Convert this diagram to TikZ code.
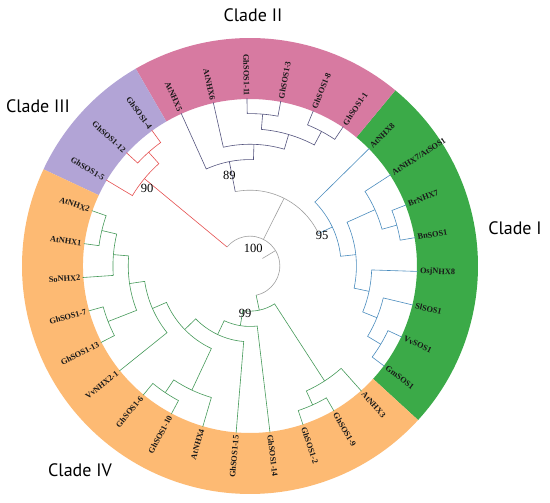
\documentclass[tikz,border=0pt]{standalone}
\usepackage{fontspec}
\setmainfont{Liberation Serif}
\newfontfamily\cladefont{PT Sans}
\definecolor{cI}{HTML}{3BAA48}
\definecolor{cII}{HTML}{D77AA1}
\definecolor{cIII}{HTML}{B2A4D6}
\definecolor{cIV}{HTML}{FDBA73}
\definecolor{bblue}{HTML}{4A8CBE}
\definecolor{bpur}{HTML}{55557F}
\definecolor{bred}{HTML}{E65050}
\definecolor{bgrn}{HTML}{469A5A}
\definecolor{bgray}{HTML}{A0A0A0}
\def\az{-36.7}
\def\as{11.6129}
\def\Rl{167.7}
\def\dr{15.32}
\def\Rt{170}
% internal node: colour, height, child1 index, child1 height, child2 index, child2 height
\newcommand\tn[6]{%
  \draw[br,#1] ({\az+#3*\as}:{\Rl-#4*\dr}) -- ({\az+#3*\as}:{\Rl-#2*\dr})
    arc[start angle={\az+#3*\as}, end angle={\az+#5*\as}, radius={\Rl-#2*\dr}]
    -- ({\az+#5*\as}:{\Rl-#6*\dr});}
% stem: colour, index, from height, to height
\newcommand\stem[4]{%
  \draw[br,#1] ({\az+#2*\as}:{\Rl-#3*\dr}) -- ({\az+#2*\as}:{\Rl-#4*\dr});}
% arc: colour, height, index1, index2
\newcommand\harc[4]{%
  \draw[br,#1] ({\az+#3*\as}:{\Rl-#2*\dr})
    arc[start angle={\az+#3*\as}, end angle={\az+#4*\as}, radius={\Rl-#2*\dr}];}
% leaf label
\newcommand\lab[2]{%
  \pgfmathsetmacro\la{\az+#1*\as}%
  \ifdim\la pt<90pt
    \node[lbl,rotate=\la,anchor=west] (L#1) at (\la:\Rt) {#2};
  \else\ifdim\la pt>270pt
    \node[lbl,rotate=\la,anchor=west] (L#1) at (\la:\Rt) {#2};
  \else
    \node[lbl,rotate=\la-180,anchor=east] (L#1) at (\la:\Rt) {#2};
  \fi\fi}
% ring sector: colour, start, end
\newcommand\sector[3]{%
  \fill[#1] (#2:167) arc[start angle=#2, end angle=#3, radius=167]
    -- (#3:228) arc[start angle=#3, end angle=#2, radius=228] -- cycle;}
\tikzset{
  br/.style={line width=0.6pt, line join=miter},
  lbl/.style={font=\fontsize{8.3}{9}\selectfont\bfseries, inner sep=0pt, text=black!90},
  boot/.style={font=\fontsize{12.5}{13}\selectfont, inner sep=0pt},
  clade/.style={font=\cladefont\fontsize{18}{20}\selectfont, inner sep=0pt}
}
\begin{document}
\begin{tikzpicture}[x=1pt,y=1pt]
\useasboundingbox (0,0) rectangle (550,503);
\fill[white] (0,0) rectangle (550,503);
\begin{scope}[shift={(250,237)}]
  % coloured ring
  \pgfmathsetmacro\bA{\az-0.5*\as}
  \pgfmathsetmacro\bB{\az+7.5*\as}
  \pgfmathsetmacro\bC{\az+13.5*\as}
  \pgfmathsetmacro\bD{\az+16.5*\as}
  \pgfmathsetmacro\bE{\az+30.5*\as}
  \sector{cI}{\bA}{\bB}
  \sector{cII}{\bB}{\bC}
  \sector{cIII}{\bC}{\bD}
  \sector{cIV}{\bD}{\bE}
  % backbone
  \stem{bgray}{5.841796875}{10}{9}
  \harc{bgray}{9}{-3.56640625}{15.25}
  \stem{bgray}{8.609375}{9}{6}
  \harc{bgray}{6}{5.34375}{11.875}
  % Clade I
  \stem{bblue}{5.34375}{6}{5}
  \tn{bblue}{1}{4}{0}{5}{0}
  \tn{bblue}{2}{4.5}{1}{6}{0}
  \tn{bblue}{1}{0}{0}{1}{0}
  \tn{bblue}{2}{0.5}{1}{2}{0}
  \tn{bblue}{3}{1.25}{2}{3}{0}
  \tn{bblue}{4}{2.125}{3}{5.25}{2}
  \tn{bblue}{5}{3.6875}{4}{7}{0}
  % Clade II
  \stem{bpur}{11.875}{6}{4}
  \tn{bpur}{1}{8}{0}{9}{0}
  \tn{bpur}{1}{10}{0}{11}{0}
  \tn{bpur}{2}{8.5}{1}{10.5}{1}
  \tn{bpur}{3}{9.5}{2}{12}{0}
  \tn{bpur}{4}{10.75}{3}{13}{0}
  % Clade III
  \stem{bred}{15.25}{9}{2}
  \tn{bred}{1}{14}{0}{15}{0}
  \tn{bred}{2}{14.5}{1}{16}{0}
  % Clade IV
  \stem{bgrn}{-3.56640625}{9}{8}
  \tn{bgrn}{1}{17}{0}{18}{0}
  \tn{bgrn}{2}{17.5}{1}{19}{0}
  \tn{bgrn}{1}{20}{0}{21}{0}
  \tn{bgrn}{3}{18.25}{2}{20.5}{1}
  \tn{bgrn}{4}{19.375}{3}{22}{0}
  \tn{bgrn}{1}{23}{0}{24}{0}
  \tn{bgrn}{2}{23.5}{1}{25}{0}
  \tn{bgrn}{5}{20.6875}{4}{24.25}{2}
  \tn{bgrn}{6}{22.46875}{5}{26}{0}
  \tn{bgrn}{7}{24.234375}{6}{27}{0}
  \tn{bgrn}{1}{28}{0}{29}{0}
  \tn{bgrn}{2}{28.5}{1}{30}{0}
  \tn{bgrn}{8}{25.6171875}{7}{29.25}{2}
  % leaf labels
  \lab{0}{GmSOS1}
  \lab{1}{VvSOS1}
  \lab{2}{SlSOS1}
  \lab{3}{OsjNHX8}
  \lab{4}{BnSOS1}
  \lab{5}{BrNHX7}
  \lab{6}{AtNHX7/AtSOS1}
  \lab{7}{AtNHX8}
  \lab{8}{GhSOS1-1}
  \lab{9}{GhSOS1-8}
  \lab{10}{GhSOS1-3}
  \lab{11}{GhSOS1-11}
  \lab{12}{AtNHX6}
  \lab{13}{AtNHX5}
  \lab{14}{GhSOS1-4}
  \lab{15}{GhSOS1-12}
  \lab{16}{GhSOS1-5}
  \lab{17}{AtNHX2}
  \lab{18}{AtNHX1}
  \lab{19}{SoNHX2}
  \lab{20}{GhSOS1-7}
  \lab{21}{GhSOS1-13}
  \lab{22}{VvNHX2-1}
  \lab{23}{GhSOS1-6}
  \lab{24}{GhSOS1-10}
  \lab{25}{AtNHX4}
  \lab{26}{GhSOS1-15}
  \lab{27}{GhSOS1-14}
  \lab{28}{GhSOS1-2}
  \lab{29}{GhSOS1-9}
  \lab{30}{AtNHX3}
  % bootstrap values
  \node[boot] (b100) at (3.3,17.3) {100};
  \node[boot] (b95) at (72,31) {95};
  \node[boot] (b99) at (-5,-47.3) {99};
  \node[boot] (b89) at (-20.7,90.3) {89};
  \node[boot] (b90) at (-103,77.7) {90};
\end{scope}
% clade labels
\node[clade] (cladeII) at (253,488) {Clade II};
\node[clade] (cladeIII) at (38,397) {Clade III};
\node[clade] (cladeI) at (515,275) {Clade I};
\node[clade] (cladeIV) at (80,33) {Clade IV};
\end{tikzpicture}
\end{document}
